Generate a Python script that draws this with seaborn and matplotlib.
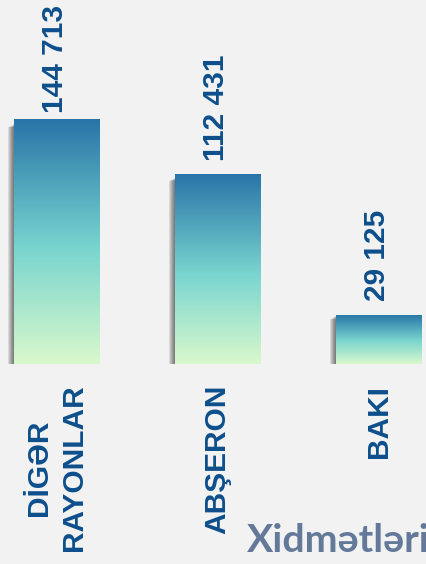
import numpy as np
import matplotlib
matplotlib.use("Agg")
import matplotlib.pyplot as plt
import seaborn as sns
from matplotlib.colors import LinearSegmentedColormap
from matplotlib.patches import Rectangle
from matplotlib.transforms import offset_copy

# ---- data ----
categories = ["DİGƏR\nRAYONLAR", "ABŞERON", "BAKI"]
values = [144713, 112431, 29125]
value_labels = [f"{v:,}".replace(",", " ") for v in values]
footer_text = "Xidmətləri"

# ---- style ----
BG = "#f2f2f2"
LABEL_COLOR = "#0d4f8b"
FOOTER_COLOR = "#64799a"
GRAD = [(0.0, "#d9f8cc"), (0.47, "#79d5cf"), (1.0, "#2774a7")]
VALUE_PAD_PX = [6, 13, 14]
DPI = 100
W, H = 426, 564

sns.set_theme(style="white")
plt.rcParams["font.family"] = ["Liberation Sans", "DejaVu Sans"]

fig = plt.figure(figsize=(W / DPI, H / DPI), dpi=DPI, facecolor=BG)
ax = fig.add_axes([0, 200 / H, 1, 364 / H])
ax.set_facecolor(BG)

sns.barplot(x=categories, y=values, ax=ax, width=0.528, color="#2774a7",
            errorbar=None, saturation=1)

xlim = (-0.351, 2.295)
ylim = (0, 215000)

cmap = LinearSegmentedColormap.from_list("bargrad", GRAD)
grad = np.linspace(0, 1, 256).reshape(-1, 1)

for i, patch in enumerate(ax.patches):
    x0 = patch.get_x()
    w = patch.get_width()
    h = patch.get_height()
    # soft shadow (left / bottom)
    for k in range(1, 7):
        tr = offset_copy(ax.transData, fig=fig, x=-k, y=-k * 0.6, units="dots")
        sh = Rectangle((x0, 0), w * 0.97, h * 0.98, transform=tr, facecolor="#000000",
                       edgecolor="none", alpha=0.1, zorder=1)
        ax.add_patch(sh)
    patch.set_facecolor("none")
    patch.set_edgecolor("none")
    patch.set_zorder(3)
    im = ax.imshow(grad, extent=[x0, x0 + w, 0, h], origin="lower",
                   aspect="auto", cmap=cmap, zorder=2, interpolation="bilinear")
    im.set_clip_path(patch)
    # value label
    ax.annotate(value_labels[i], xy=(x0 + w / 2, h),
                xytext=(-1, VALUE_PAD_PX[i] * 72 / DPI), textcoords="offset points",
                rotation=90, ha="center", va="bottom", fontsize=21.5,
                fontweight="bold", color=LABEL_COLOR, zorder=5)

ax.set_xlim(*xlim)
ax.set_ylim(*ylim)
ax.set_xticks(range(len(categories)))
ax.set_xticklabels(categories, rotation=90, fontsize=21.5, fontweight="bold",
                   color=LABEL_COLOR, multialignment="center", linespacing=1.3)
ax.tick_params(axis="x", length=0, pad=15)
ax.set_yticks([])
ax.set_xlabel("")
ax.set_ylabel("")
for s in ax.spines.values():
    s.set_visible(False)

fig.text(247 / W, 1 - 552 / H, footer_text, fontsize=28.3, fontweight="bold",
         family=["Lato", "DejaVu Sans"], color=FOOTER_COLOR, ha="left",
         va="baseline")

fig.savefig("out.png", dpi=DPI, facecolor=BG)
